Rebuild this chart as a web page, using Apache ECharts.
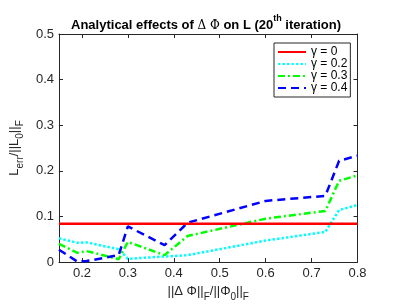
<!DOCTYPE html>
<html><head><meta charset="utf-8">
<script src="https://cdn.jsdelivr.net/npm/echarts@6/dist/echarts.min.js"></script>
<style>html,body{margin:0;padding:0;background:#fff}#c{width:407px;height:308px}</style>
</head><body><div id="c"></div>
<script>
const xValues = [0.15, 0.19, 0.21, 0.28, 0.30, 0.38, 0.43, 0.60, 0.73, 0.76, 0.80];
const gamma0 = [0.084, 0.084, 0.084, 0.084, 0.084, 0.084, 0.084, 0.084, 0.084, 0.084, 0.084];
const gamma02 = [0.052, 0.042, 0.043, 0.028, 0.007, 0.012, 0.015, 0.047, 0.066, 0.114, 0.125];
const gamma03 = [0.040, 0.020, 0.024, 0.006, 0.044, 0.015, 0.057, 0.095, 0.112, 0.178, 0.190];
const gamma04 = [0.027, 0.001, 0.002, 0.015, 0.078, 0.037, 0.086, 0.134, 0.145, 0.222, 0.233];
const seriesNames = ['γ = 0', 'γ = 0.2', 'γ = 0.3', 'γ = 0.4'];
const xTicks = [0.2, 0.3, 0.4, 0.5, 0.6, 0.7, 0.8];
const yTicks = [0, 0.1, 0.2, 0.3, 0.4, 0.5];

const pair = ys => xValues.map((x, i) => [x, ys[i]]);
const axisColor = '#262626';
const font = 'Liberation Sans';

const chart = echarts.init(document.getElementById('c'), null, {renderer: 'canvas'});
const baseX = {
  type: 'value', min: 0.15, max: 0.8,
  axisLine: {show: true, onZero: false, lineStyle: {color: axisColor, width: 1}},
  axisTick: {show: true, inside: true, length: 4, customValues: xTicks, lineStyle: {color: axisColor}},
  splitLine: {show: false}
};
const baseY = {
  type: 'value', min: 0, max: 0.5, interval: 0.1,
  axisLine: {show: true, onZero: false, lineStyle: {color: axisColor, width: 1}},
  axisTick: {show: true, inside: true, length: 4, lineStyle: {color: axisColor}},
  splitLine: {show: false}
};
chart.setOption({
  animation: false,
  backgroundColor: '#fff',
  title: {
    text: '{b|Analytical effects of }{g|Δ Φ}{b| on L (20}{sup|th}{b| iteration)}',
    left: 201, textAlign: 'center', top: 9,
    textStyle: {
      rich: {
        b: {fontFamily: font, fontWeight: 'bold', fontSize: 13, lineHeight: 18, verticalAlign: 'bottom', color: '#000'},
        g: {fontFamily: 'DejaVu Serif', fontWeight: 'normal', fontSize: 12, lineHeight: 18, verticalAlign: 'bottom', color: '#000'},
        sup: {fontFamily: font, fontWeight: 'bold', fontSize: 9, lineHeight: 10, verticalAlign: 'top', color: '#000'}
      }
    }
  },
  grid: {left: 53, right: 49.5, top: 34, bottom: 46, containLabel: false},
  xAxis: [
    Object.assign({}, baseX, {
      position: 'bottom',
      axisLabel: {show: true, customValues: xTicks, fontFamily: font, fontSize: 13, color: axisColor, margin: 5},
      name: '{t|||Δ Φ||}{s|F}{t|/||Φ}{s|0}{t|||}{s|F}',
      nameLocation: 'middle', nameGap: 10,
      nameTextStyle: {
        rich: {
          t: {fontFamily: font, fontSize: 13, lineHeight: 15, verticalAlign: 'top', color: axisColor},
          s: {fontFamily: font, fontSize: 10, lineHeight: 10, padding: [7, 0, 0, 0], verticalAlign: 'top', color: axisColor}
        }
      }
    }),
    Object.assign({}, baseX, {position: 'top', axisLabel: {show: false}})
  ],
  yAxis: [
    Object.assign({}, baseY, {
      position: 'left',
      axisLabel: {show: true, fontFamily: font, fontSize: 13, color: axisColor, margin: 5},
      name: '{t|L}{s|err}{t|/||L}{s|0}{t|||}{s|F}',
      nameLocation: 'middle', nameGap: 34, nameRotate: 90,
      nameTextStyle: {
        rich: {
          t: {fontFamily: font, fontSize: 13, lineHeight: 15, verticalAlign: 'top', color: axisColor},
          s: {fontFamily: font, fontSize: 10, lineHeight: 10, padding: [7, 0, 0, 0], verticalAlign: 'top', color: axisColor}
        }
      }
    }),
    Object.assign({}, baseY, {position: 'right', axisLabel: {show: false}})
  ],
  legend: {
    orient: 'vertical', left: 274, top: 43,
    data: seriesNames,
    itemWidth: 28, itemHeight: 8, itemGap: 0,
    padding: [3, 3, 3, 3],
    itemStyle: {opacity: 0, borderWidth: 0},
    borderColor: axisColor, borderWidth: 1, backgroundColor: '#fff',
    textStyle: {fontFamily: font, fontSize: 12, lineHeight: 11, color: '#000'}
  },
  series: [
    {name: seriesNames[0], type: 'line', data: pair(gamma0), showSymbol: false, symbol: 'none',
     lineStyle: {color: '#ff0000', width: 2.5, type: 'solid'}, itemStyle: {color: '#ff0000'}, z: 5},
    {name: seriesNames[1], type: 'line', data: pair(gamma02), showSymbol: false, symbol: 'none',
     lineStyle: {color: '#00ffff', width: 2.5, type: [2.5, 2]}, itemStyle: {color: '#00ffff'}},
    {name: seriesNames[2], type: 'line', data: pair(gamma03), showSymbol: false, symbol: 'none',
     lineStyle: {color: '#00ff00', width: 2.5, type: [7, 3, 2, 3]}, itemStyle: {color: '#00ff00'}},
    {name: seriesNames[3], type: 'line', data: pair(gamma04), showSymbol: false, symbol: 'none',
     lineStyle: {color: '#0000ff', width: 2.5, type: [8, 5]}, itemStyle: {color: '#0000ff'}}
  ]
});
</script></body></html>
